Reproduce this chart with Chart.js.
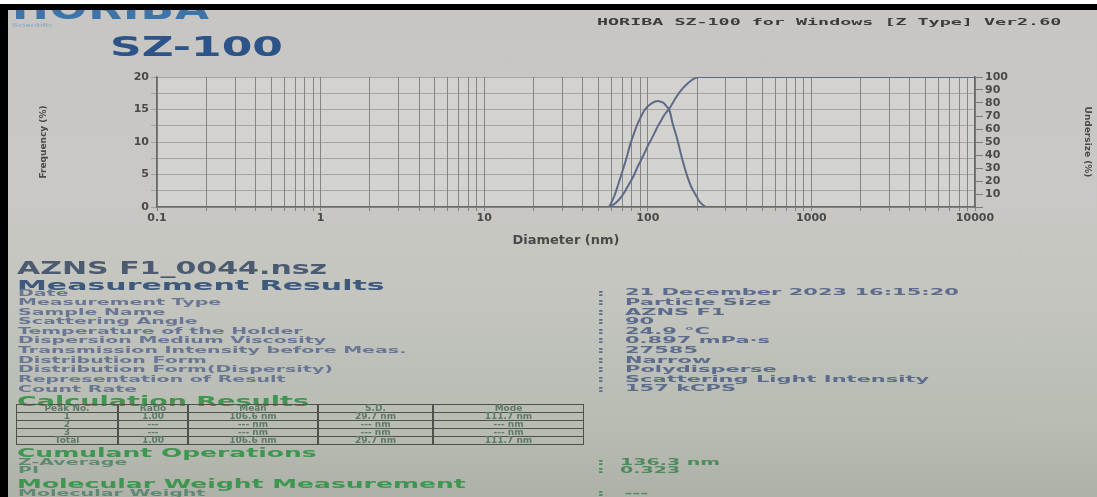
<!DOCTYPE html>
<html>
<head>
<meta charset="utf-8">
<script src="https://cdn.jsdelivr.net/npm/chart.js@4.4.1/dist/chart.umd.min.js"></script>
<style>
  html, body { margin: 0; padding: 0; }
  body {
    width: 1097px; height: 497px; overflow: hidden; position: relative;
    background: #fff;
    font-family: "DejaVu Sans", sans-serif;
  }
  #sheet {
    position: absolute; left: 0; top: 4px; width: 1097px; height: 493px;
    background: linear-gradient(to bottom, #c8c6c2 0%, #c9c8c4 40%, #c3c5be 60%, #b8bcb3 85%, #adb1a8 100%);
  }
  #white-top { position: absolute; left: 0; top: 0; width: 1097px; height: 4px; background: #fff; z-index: 10; }
  #black-top { position: absolute; left: 0; top: 4px; width: 1097px; height: 6px; background: #000; z-index: 10; }
  #black-left { position: absolute; left: 0; top: 4px; width: 8px; height: 493px; background: #000; z-index: 10; }
  .t { position: absolute; white-space: nowrap; font-weight: bold; transform-origin: 0 0; filter: blur(0.3px); }
  #chart-box { position: absolute; left: 0; top: 60px; width: 1097px; height: 192px; }
  .row { height: 21.3px; line-height: 21.3px; }
  .row2 { height: 17.8px; line-height: 17.8px; }
  table.calc {
    position: absolute; left: 16px; top: 404px; width: 568px; border-collapse: collapse;
    font-weight: bold; font-size: 9px; color: #5f7a68; filter: blur(0.3px);
  }
  table.calc td { border: 1px solid #4d524d; height: 7px; line-height: 7px; padding: 0; text-align: center; }
  table.calc td + td { border-left-width: 2px; }
</style>
</head>
<body>
<div id="sheet"></div>

<div class="t" style="left:12px; top:-11px; font-size:44px; color:#3d74aa; letter-spacing:1px; transform:scaleY(0.72);">HORIBA</div>
<div class="t" style="left:12px; top:22px; font-size:9px; color:#7fa6c8; font-weight:normal; transform:scaleY(0.6);">Scientific</div>
<div class="t" style="left:110px; top:31px; font-size:44px; color:#2d5488; transform:scale(1, 0.6);">SZ-100</div>
<div class="t" style="left:597px; top:17px; font-size:17px; color:#3c3c3c; font-family:'DejaVu Sans Mono', monospace; transform:scale(1.08, 0.5);">HORIBA SZ-100 for Windows [Z Type] Ver2.60</div>

<div id="white-top"></div>
<div id="black-top"></div>
<div id="black-left"></div>

<div id="chart-box"><canvas id="chart"></canvas></div>

<div class="t" style="left:17px; top:257px; font-size:30px; color:#4d5b70; transform:scaleY(0.6);">AZNS F1_0044.nsz</div>
<div class="t" style="left:17px; top:277px; font-size:30px; color:#3d5a7d; transform:scaleY(0.46);">Measurement Results</div>
<div id="labels" class="t" style="left:18px; top:288px; font-size:19px; color:#6a7794; transform:scaleY(0.45);"></div>
<div id="colons" class="t" style="left:597px; top:288px; font-size:19px; color:#5d6c8c; transform:scaleY(0.45);"></div>
<div id="values" class="t" style="left:625px; top:288px; font-size:21px; color:#5d6c8c; transform:scaleY(0.41);"></div>

<div class="t" style="left:17px; top:393px; font-size:27px; color:#3f9650; transform:scaleY(0.5);">Calculation Results</div>
<table class="calc">
  <tr><td style="width:100px">Peak No.</td><td style="width:68px">Ratio</td><td style="width:128px">Mean</td><td style="width:113px">S.D.</td><td>Mode</td></tr>
  <tr><td>1</td><td>1.00</td><td>106.6 nm</td><td>29.7 nm</td><td>111.7 nm</td></tr>
  <tr><td>2</td><td>---</td><td>--- nm</td><td>--- nm</td><td>--- nm</td></tr>
  <tr><td>3</td><td>---</td><td>--- nm</td><td>--- nm</td><td>--- nm</td></tr>
  <tr><td>Total</td><td>1.00</td><td>106.6 nm</td><td>29.7 nm</td><td>111.7 nm</td></tr>
</table>
<div class="t" style="left:17px; top:445px; font-size:25px; color:#3f9650; transform:scaleY(0.5);">Cumulant Operations</div>
<div class="t" style="left:18px; top:458px; font-size:19px; color:#5f8a70; transform:scaleY(0.45);"><div class="row2">Z-Average</div><div class="row2">PI</div></div>
<div class="t" style="left:597px; top:458px; font-size:19px; color:#4d8a5e; transform:scaleY(0.45);"><div class="row2">:</div><div class="row2">:</div></div>
<div class="t" style="left:620px; top:458px; font-size:19px; color:#4d8a5e; transform:scaleY(0.45);"><div class="row2">136.3 nm</div><div class="row2">0.323</div></div>
<div class="t" style="left:17px; top:476px; font-size:25px; color:#3f9650; transform:scaleY(0.5);">Molecular Weight Measurement</div>
<div class="t" style="left:18px; top:488px; font-size:19px; color:#5f8a70; transform:scaleY(0.45);">Molecular Weight</div>
<div class="t" style="left:597px; top:488px; font-size:19px; color:#4d8a5e; transform:scaleY(0.45);">:&nbsp;&nbsp;&nbsp;---</div>

<script>
// ---- chart data ----
const freqDiameters = [58, 62, 66, 70, 74, 78, 82, 86, 90, 95, 100, 105, 110, 115, 120, 125, 130, 136, 142, 150, 163, 175, 185, 196, 205, 215, 225];
const freqValues    = [0, 1.5, 3.5, 5.5, 7.5, 9.6, 11.2, 12.6, 13.7, 14.8, 15.5, 15.9, 16.2, 16.3, 16.2, 16.0, 15.5, 14.8, 12.8, 10.8, 7.2, 4.6, 3.0, 1.9, 1.0, 0.4, 0];

const cumDiameters = [58, 62, 66, 70, 74, 78, 82, 86, 90, 95, 100, 105, 110, 115, 120, 125, 130, 136, 142, 150, 163, 175, 185, 196, 205, 10000];
const cumValues    = [0, 2, 5, 9, 14, 19, 24, 30, 35, 41, 47, 52, 57, 62, 66, 70, 73, 76, 80, 85, 91, 95, 97.5, 99.3, 100, 100];

const xMajorTicks = [0.1, 1, 10, 100, 1000, 10000];
const xTickLabels = ['0.1', '1', '10', '100', '1000', '10000'];
const leftTickLabels = [0, 5, 10, 15, 20];

// ---- measurement table text ----
const infoRows = [
  ['Date', '21 December 2023 16:15:20'],
  ['Measurement Type', 'Particle Size'],
  ['Sample Name', 'AZNS F1'],
  ['Scattering Angle', '90'],
  ['Temperature of the Holder', '24.9 \u00B0C'],
  ['Dispersion Medium Viscosity', '0.897 mPa\u00B7s'],
  ['Transmission Intensity before Meas.', '27585'],
  ['Distribution Form', 'Narrow'],
  ['Distribution Form(Dispersity)', 'Polydisperse'],
  ['Representation of Result', 'Scattering Light Intensity'],
  ['Count Rate', '157 kCPS'],
];

const $ = (id) => document.getElementById(id);
$('labels').innerHTML = infoRows.map(r => `<div class="row">${r[0]}</div>`).join('');
$('colons').innerHTML = infoRows.map(() => `<div class="row">:</div>`).join('');
$('values').innerHTML = infoRows.map(r => `<div class="row" style="height:23.4px;line-height:23.4px">${r[1]}</div>`).join('');

const toPoints = (xs, ys) => xs.map((x, i) => ({ x: x, y: ys[i] }));

// all log minor positions 0.1 .. 10000
const xAllTicks = [];
xMajorTicks.slice(0, -1).forEach(d => { for (let m = 1; m <= 9; m++) xAllTicks.push(m * d); });
xAllTicks.push(10000);

const plotBg = {
  id: 'plotBg',
  beforeDraw(chart) {
    const { ctx, chartArea: a } = chart;
    ctx.save();
    ctx.fillStyle = 'rgba(255,255,255,0.2)';
    ctx.fillRect(a.left, a.top, a.right - a.left, a.bottom - a.top);
    ctx.restore();
  }
};

const lineColor = '#5d6a88';
const tickFont = { family: 'DejaVu Sans', size: 11, weight: 'bold' };

new Chart($('chart').getContext('2d'), {
  type: 'scatter',
  data: {
    datasets: [
      { label: 'Frequency', data: toPoints(freqDiameters, freqValues), yAxisID: 'y',
        showLine: true, borderColor: lineColor, borderWidth: 2, pointRadius: 0, cubicInterpolationMode: 'monotone' },
      { label: 'Undersize', data: toPoints(cumDiameters, cumValues), yAxisID: 'y1',
        showLine: true, borderColor: lineColor, borderWidth: 2, pointRadius: 0, cubicInterpolationMode: 'monotone' },
    ]
  },
  options: {
    responsive: true,
    maintainAspectRatio: false,
    animation: false,
    layout: { padding: { top: 17, left: 0, right: 0, bottom: 0 } },
    plugins: { legend: { display: false }, tooltip: { enabled: false } },
    scales: {
      x: {
        type: 'logarithmic', min: 0.1, max: 10000,
        afterBuildTicks: (s) => { s.ticks = xAllTicks.map(v => ({ value: v })); },
        afterFit: (s) => { s.height = 45; },
        ticks: {
          autoSkip: false, maxRotation: 0, padding: 1, color: '#4a4a4a', font: tickFont,
          callback: (v) => { const i = xMajorTicks.findIndex(m => Math.abs(m - v) < 1e-9); return i >= 0 ? xTickLabels[i] : ''; }
        },
        grid: { color: 'rgba(105,105,105,0.75)', lineWidth: 1, tickLength: 4 },
        border: { color: '#6a6a6a', width: 1.5 },
        title: { display: true, text: 'Diameter (nm)', color: '#4a4a4a', font: { family: 'DejaVu Sans', size: 13, weight: 'bold' }, padding: { top: 4, bottom: 4 } }
      },
      y: {
        position: 'left', min: 0, max: 20,
        afterFit: (s) => { s.width = 157; },
        ticks: { stepSize: 2.5, autoSkip: false, color: '#4a4a4a', font: tickFont, padding: 2,
          callback: (v) => leftTickLabels.includes(v) ? String(v) : '' },
        grid: { color: 'rgba(135,135,135,0.6)', lineWidth: 1, tickLength: 6 },
        border: { color: '#6a6a6a', width: 1.5 },
        title: { display: true, text: 'Frequency (%)', color: '#4a4a4a', font: { family: 'DejaVu Sans', size: 9, weight: 'bold' }, padding: { top: 38, bottom: 38 } }
      },
      y1: {
        position: 'right', min: 0, max: 100,
        afterFit: (s) => { s.width = 122; },
        ticks: { stepSize: 10, autoSkip: false, color: '#4a4a4a', font: tickFont, padding: 2,
          callback: (v) => v === 0 ? '' : String(v) },
        grid: { drawOnChartArea: false, color: 'rgba(105,105,105,0.8)', tickLength: 8 },
        border: { color: '#6a6a6a', width: 1.5 },
        title: { display: true, text: 'Undersize (%)', color: '#4a4a4a', font: { family: 'DejaVu Sans', size: 9, weight: 'bold' }, padding: { top: 4, bottom: 4 } }
      }
    }
  },
  plugins: [plotBg]
});
</script>
</body>
</html>
